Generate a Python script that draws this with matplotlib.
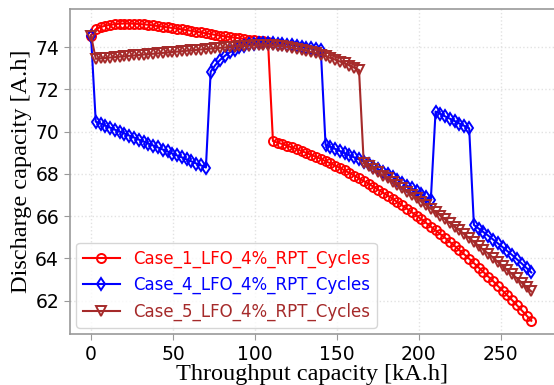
import numpy as np
import matplotlib
matplotlib.use("Agg")
import matplotlib.pyplot as plt


##############################################################################################################
# Data: throughput [kA.h] and discharge capacity [A.h] at each RPT
##############################################################################################################
throughput = [0.0, 2.9, 5.8, 8.8, 11.7, 14.6, 17.5, 20.4, 23.4, 26.3,
              29.2, 32.1, 35.0, 38.0, 40.9, 43.8, 46.7, 49.6, 52.6, 55.5,
              58.4, 61.3, 64.2, 67.2, 70.1, 73.0, 75.9, 78.8, 81.8, 84.7,
              87.6, 90.5, 93.4, 96.4, 99.3, 102.2, 105.1, 108.0, 111.0, 113.9,
              116.8, 119.7, 122.6, 125.6, 128.5, 131.4, 134.3, 137.2, 140.2, 143.1,
              146.0, 149.0, 151.9, 154.8, 157.7, 160.6, 163.5, 166.4, 169.4, 172.3,
              175.2, 178.1, 181.0, 184.0, 186.9, 189.8, 192.7, 195.6, 198.6, 201.5,
              204.4, 207.3, 210.2, 213.2, 216.1, 219.0, 221.9, 224.8, 227.8, 230.7,
              233.6, 236.5, 239.4, 242.4, 245.3, 248.2, 251.1, 254.0, 257.0, 259.9,
              262.8, 265.7, 268.6]

case_1 = [74.55, 74.85, 74.95, 75.02, 75.06, 75.09, 75.11, 75.12, 75.12, 75.11,
          75.10, 75.08, 75.06, 75.03, 75.00, 74.97, 74.94, 74.91, 74.88, 74.84,
          74.81, 74.77, 74.73, 74.70, 74.66, 74.62, 74.58, 74.55, 74.51, 74.48,
          74.45, 74.42, 74.39, 74.36, 74.34, 74.31, 74.28, 74.25, 69.55, 69.48,
          69.41, 69.33, 69.25, 69.17, 69.08, 68.99, 68.90, 68.81, 68.71, 68.60,
          68.50, 68.39, 68.28, 68.16, 68.04, 67.92, 67.79, 67.66, 67.53, 67.39,
          67.25, 67.11, 66.97, 66.82, 66.66, 66.51, 66.35, 66.19, 66.02, 65.85,
          65.68, 65.50, 65.32, 65.14, 64.96, 64.77, 64.58, 64.38, 64.18, 63.98,
          63.77, 63.56, 63.35, 63.13, 62.92, 62.69, 62.47, 62.24, 62.01, 61.77,
          61.53, 61.29, 61.04]

case_4 = [74.55, 70.47, 70.38, 70.28, 70.19, 70.09, 70.00, 69.91, 69.81, 69.72,
          69.62, 69.53, 69.43, 69.34, 69.25, 69.15, 69.06, 68.96, 68.87, 68.78,
          68.68, 68.59, 68.49, 68.40, 68.30, 72.84, 73.16, 73.40, 73.60, 73.76,
          73.89, 73.99, 74.07, 74.13, 74.17, 74.19, 74.20, 74.20, 74.19, 74.17,
          74.15, 74.12, 74.09, 74.06, 74.02, 73.98, 73.94, 73.90, 73.86, 69.37,
          69.28, 69.18, 69.08, 68.98, 68.88, 68.78, 68.68, 68.58, 68.46, 68.34,
          68.22, 68.10, 67.97, 67.84, 67.71, 67.58, 67.44, 67.31, 67.17, 67.03,
          66.89, 66.75, 70.95, 70.84, 70.72, 70.61, 70.50, 70.38, 70.27, 70.16,
          65.58, 65.41, 65.24, 65.07, 64.89, 64.71, 64.53, 64.34, 64.15, 63.95,
          63.75, 63.54, 63.33]

case_5 = [74.55, 73.45, 73.47, 73.49, 73.51, 73.53, 73.55, 73.57, 73.59, 73.61,
          73.63, 73.65, 73.67, 73.69, 73.71, 73.73, 73.75, 73.77, 73.79, 73.81,
          73.83, 73.85, 73.87, 73.89, 73.91, 73.93, 73.95, 73.97, 73.99, 74.01,
          74.03, 74.04, 74.06, 74.07, 74.08, 74.09, 74.09, 74.09, 74.08, 74.06,
          74.04, 74.01, 73.97, 73.93, 73.88, 73.83, 73.77, 73.71, 73.64, 73.57,
          73.49, 73.41, 73.32, 73.23, 73.13, 73.03, 72.92, 68.50, 68.36, 68.22,
          68.07, 67.92, 67.78, 67.63, 67.47, 67.32, 67.16, 67.00, 66.84, 66.68,
          66.52, 66.35, 66.19, 66.02, 65.84, 65.67, 65.50, 65.32, 65.14, 64.96,
          64.78, 64.59, 64.40, 64.22, 64.03, 63.83, 63.64, 63.44, 63.25, 63.05,
          62.84, 62.64, 62.43]

labels = ["Case_1_LFO_4%_RPT_Cycles", "Case_4_LFO_4%_RPT_Cycles", "Case_5_LFO_4%_RPT_Cycles"]
colors = ["red", "blue", "brown"]
markers = ["o", "d", "v"]


##############################################################################################################
# Chart
##############################################################################################################
fig = plt.figure(figsize=(5.54, 3.85), dpi=100)
ax1 = fig.add_axes([0.1255, 0.1317, 0.8755, 0.845])

for y, lab, c, m in zip([case_1, case_4, case_5], labels, colors, markers):
    ax1.plot(throughput, y, color=c, marker=m, markersize=6.5, markerfacecolor="none",
             markeredgewidth=1.4, linewidth=1.5, label=lab)

ax1.set_xlim(-13.1, 282.8)
ax1.set_ylim(60.4, 75.81)
ax1.set_xticks([0, 50, 100, 150, 200, 250])
ax1.set_yticks([62, 64, 66, 68, 70, 72, 74])
ax1.tick_params(labelsize=13.5, length=4, color="#999999")
ax1.grid(True, color="#e2e2e2", linestyle=":", linewidth=1.0)
for s in ax1.spines.values():
    s.set_color("#999999")
    s.set_linewidth(1.2)
ax1.spines["right"].set_visible(False)

ax1.set_xlabel("Throughput capacity [kA.h]", family="Liberation Serif", fontsize=17.5, labelpad=0)
ax1.set_ylabel("Discharge capacity [A.h]", family="Liberation Serif", fontsize=17.5, labelpad=2)

ax1.legend(loc="lower left", fontsize=12, labelcolor="linecolor", numpoints=1,
           handlelength=2.2, borderaxespad=0.4, framealpha=0.8)

fig.savefig("out.png", dpi=100)
